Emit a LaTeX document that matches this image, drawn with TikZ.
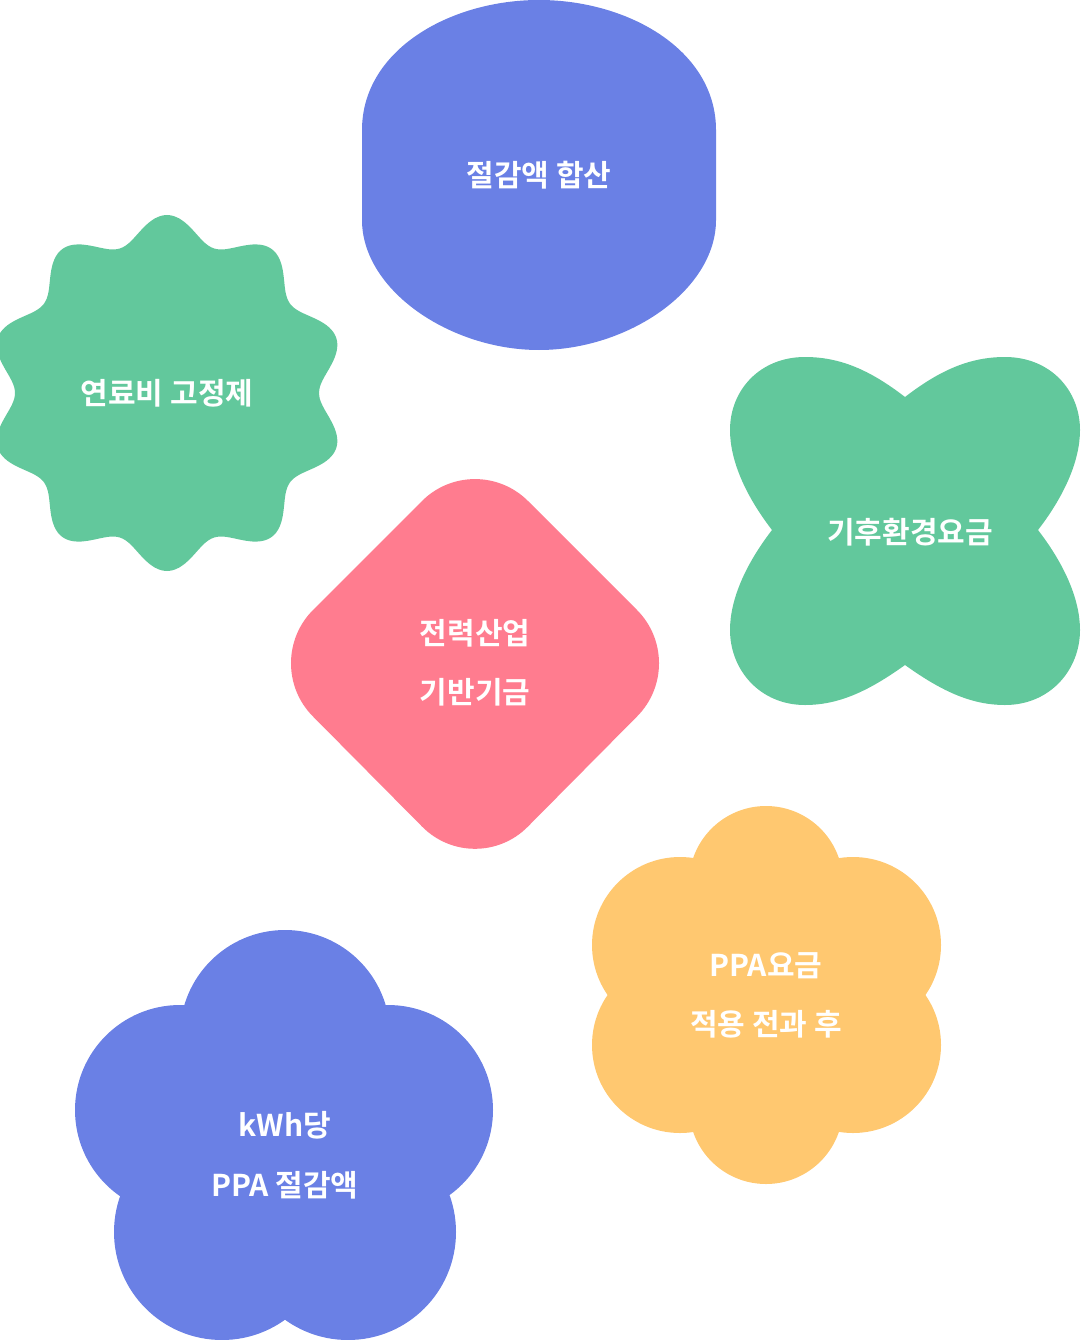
\documentclass[tikz,border=0pt]{standalone}
\usepackage{fontspec}
\setmainfont{Noto Sans CJK KR}[BoldFont={* Bold}]
\definecolor{cblue}{HTML}{6A80E5}
\definecolor{cgreen}{HTML}{62C89C}
\definecolor{cpink}{HTML}{FF7C8F}
\definecolor{cyellow}{HTML}{FFC870}
\tikzset{lbl/.style={text=white,font=\bfseries\fontsize{30}{36}\selectfont,align=center}}
\begin{document}
\begin{tikzpicture}[x=1pt,y=-1pt]
\useasboundingbox (0,0) rectangle (1080,1340);
% top blue
\fill[cblue] (362,130) .. controls (362,50) and (450,0) .. (539,0) .. controls (628,0) and (716,50) .. (716,130) -- (716,220) .. controls (716,290) and (628,350) .. (539,350) .. controls (450,350) and (362,290) .. (362,220) -- cycle;
\node[lbl] (a) at (539,175) {절감액 합산};
% green wavy
\fill[cgreen] plot[smooth,domain=0:360,samples=181,variable=\t] ({167+(165+13*cos(10*(\t-90)))*cos(\t)},{393-(165+13*cos(10*(\t-90)))*sin(\t)}) -- cycle;
\node[lbl] (b) at (167,393) {연료비 고정제};
% green four-lobe
\fill[cgreen] (905,397) .. controls (940,370) and (970,357) .. (1005,357) .. controls (1050,357) and (1080,390) .. (1080,430) .. controls (1080,460) and (1065,495) .. (1038,530) .. controls (1065,565) and (1080,600) .. (1080,630) .. controls (1080,670) and (1050,705) .. (1005,705) .. controls (970,705) and (940,690) .. (905,665) .. controls (870,690) and (840,705) .. (805,705) .. controls (760,705) and (730,670) .. (730,630) .. controls (730,600) and (745,565) .. (772,530) .. controls (745,495) and (730,460) .. (730,430) .. controls (730,390) and (760,357) .. (805,357) .. controls (840,357) and (870,370) .. (905,397) -- cycle;
\node[lbl] (c) at (910,532) {기후환경요금};
% pink diamond
\fill[cpink,rounded corners=75pt] (475,448) -- (690,663) -- (475,880) -- (260,663) -- cycle;
\node[lbl] (d1) at (475,633) {전력산업};
\node[lbl] (d2) at (475,692) {기반기금};
% yellow flower
\fill[cyellow] (766,883) circle[radius=77pt] (766,1107) circle[radius=77pt]
 (680,945) circle[radius=88pt] (680,1045) circle[radius=88pt]
 (853,945) circle[radius=88pt] (853,1045) circle[radius=88pt]
 (680,890) rectangle (853,1100);
\node[lbl] (e1) at (766,966) {PPA요금};
\node[lbl] (e2) at (766,1024) {적용 전과 후};
% blue flower
\fill[cblue] (285,1035) circle[radius=105pt] (180,1110) circle[radius=105pt] (388,1110) circle[radius=105pt]
 (222,1232) circle[radius=108pt] (348,1232) circle[radius=108pt]
 (285,1060) -- (200,1120) -- (230,1220) -- (340,1220) -- (370,1120) -- cycle;
\node[lbl] (f1) at (285,1125) {kWh당};
\node[lbl] (f2) at (285,1185) {PPA 절감액};
\end{tikzpicture}
\end{document}
